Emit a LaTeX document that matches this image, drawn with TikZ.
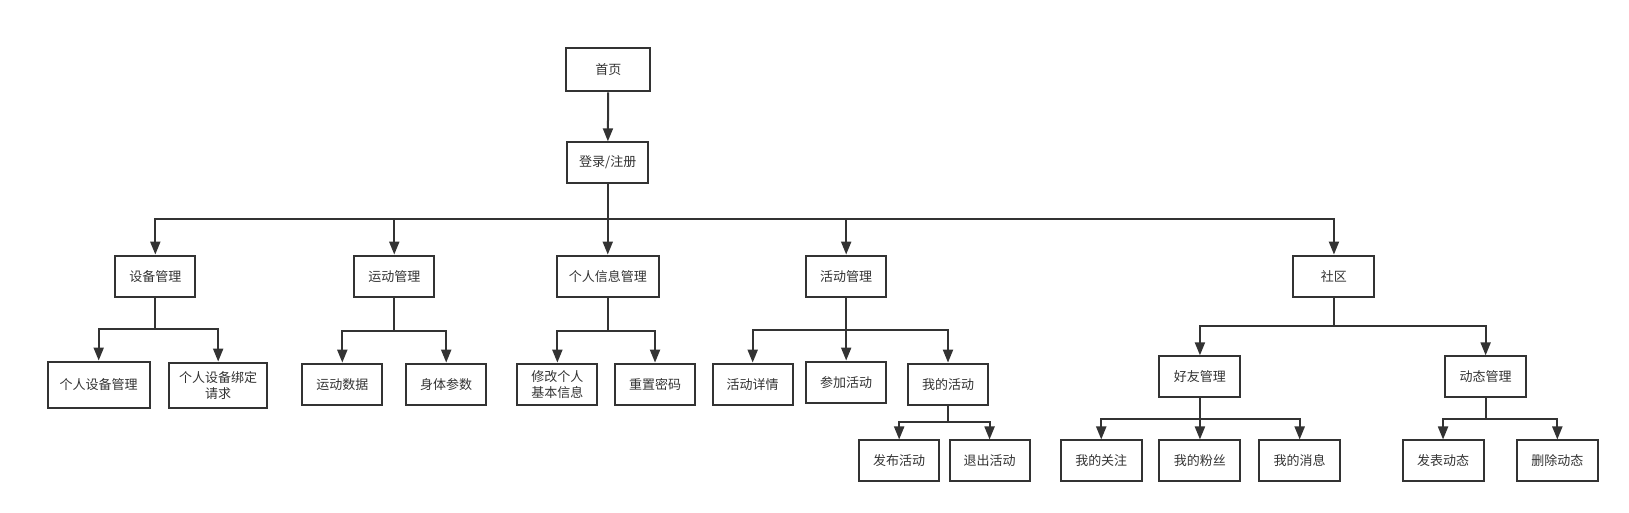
\documentclass[tikz,border=0pt]{standalone}
\usepackage{fontspec}
\setmainfont{Noto Sans CJK SC}
\usetikzlibrary{arrows.meta}
\definecolor{ink}{HTML}{333333}
\begin{document}
\begin{tikzpicture}[x=1.039pt,y=-1.039pt,
  box/.style={draw=ink, line width=2pt, text=ink, inner sep=2pt, align=center,
    font=\fontsize{13}{16}\selectfont},
  wh/.style 2 args={minimum width=#1*1.039pt, minimum height=#2*1.039pt},
  arr/.style={draw=ink, line width=2pt, -{Triangle[length=13pt,width=10pt]}}]
\useasboundingbox (0,0) rectangle (1568,493);
% level 0/1
\node[box, wh={81}{42}] (home) at (585.5,67) {首页};
\node[box, wh={78}{39}] (login) at (585,156.5) {登录/注册};
% level 2
\node[box, wh={77}{40}] (dev) at (149.5,266) {设备管理};
\node[box, wh={77}{40}] (spt) at (379.5,266) {运动管理};
\node[box, wh={98}{40}] (inf) at (585,266) {个人信息管理};
\node[box, wh={77}{40}] (act) at (814.5,266) {活动管理};
\node[box, wh={78}{40}] (com) at (1284,266) {社区};
% level 3
\node[box, wh={98}{45}] (dev1) at (95,370.5) {个人设备管理};
\node[box, wh={94}{44}] (dev2) at (210,371) {个人设备绑定\\请求};
\node[box, wh={77}{40}] (spt1) at (329.5,370) {运动数据};
\node[box, wh={77}{40}] (spt2) at (429.5,370) {身体参数};
\node[box, wh={77}{40}] (inf1) at (536.5,370) {修改个人\\基本信息};
\node[box, wh={77}{40}] (inf2) at (630.5,370) {重置密码};
\node[box, wh={77}{40}] (act1) at (724.5,370) {活动详情};
\node[box, wh={77}{40}] (act2) at (814.5,368) {参加活动};
\node[box, wh={77}{40}] (act3) at (912.5,370) {我的活动};
\node[box, wh={78}{39}] (fri) at (1155,362.5) {好友管理};
\node[box, wh={78}{39}] (dyn) at (1430,362.5) {动态管理};
% level 4
\node[box, wh={77}{39}] (my1) at (865.5,443.5) {发布活动};
\node[box, wh={77}{39}] (my2) at (952.5,443.5) {退出活动};
\node[box, wh={78}{39}] (fri1) at (1060,443.5) {我的关注};
\node[box, wh={78}{39}] (fri2) at (1155,443.5) {我的粉丝};
\node[box, wh={78}{39}] (fri3) at (1251,443.5) {我的消息};
\node[box, wh={78}{39}] (dyn1) at (1389,443.5) {发表动态};
\node[box, wh={78}{39}] (dyn2) at (1499,443.5) {删除动态};
% connectors
\draw[arr] (home) -- (login);
\foreach \c in {dev,spt,inf,act,com}
  \draw[arr] (login.south) -- (login.south |- 0,211) -| (\c.north);
\foreach \c in {dev1,dev2}
  \draw[arr] (dev.south) -- (dev.south |- 0,317) -| (\c.north);
\foreach \c in {spt1,spt2}
  \draw[arr] (spt.south) -- (spt.south |- 0,319) -| (\c.north);
\foreach \c in {inf1,inf2}
  \draw[arr] (inf.south) -- (inf.south |- 0,319) -| (\c.north);
\foreach \c in {act1,act2,act3}
  \draw[arr] (act.south) -- (act.south |- 0,318) -| (\c.north);
\foreach \c in {my1,my2}
  \draw[arr] (act3.south) -- (act3.south |- 0,406) -| (\c.north);
\foreach \c in {fri,dyn}
  \draw[arr] (com.south) -- (com.south |- 0,314) -| (\c.north);
\foreach \c in {fri1,fri2,fri3}
  \draw[arr] (fri.south) -- (fri.south |- 0,403) -| (\c.north);
\foreach \c in {dyn1,dyn2}
  \draw[arr] (dyn.south) -- (dyn.south |- 0,403) -| (\c.north);
\end{tikzpicture}
\end{document}
